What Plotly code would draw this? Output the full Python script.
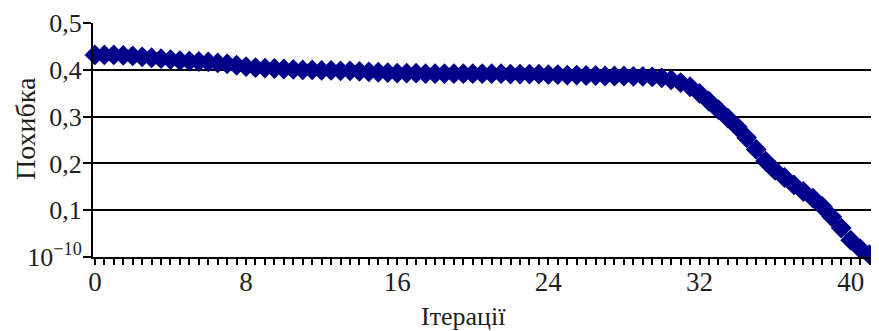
import plotly.graph_objects as go

iterations = [i * 0.5 for i in range(83)]
error = [
    0.432, 0.432, 0.432, 0.431, 0.430, 0.428, 0.426, 0.424, 0.422, 0.420,
    0.419, 0.418, 0.417, 0.415, 0.413, 0.410, 0.407, 0.405, 0.404, 0.403,
    0.402, 0.401, 0.400, 0.400, 0.399, 0.399, 0.398, 0.398, 0.397, 0.396,
    0.395, 0.394, 0.393, 0.393, 0.393, 0.392, 0.392, 0.392, 0.392, 0.392,
    0.392, 0.392, 0.392, 0.392, 0.391, 0.391, 0.391, 0.391, 0.390, 0.390,
    0.389, 0.389, 0.388, 0.388, 0.387, 0.387, 0.387, 0.386, 0.386, 0.385,
    0.383, 0.379, 0.373, 0.364, 0.350, 0.333, 0.315, 0.297, 0.278, 0.255,
    0.230, 0.205, 0.185, 0.170, 0.154, 0.140, 0.126, 0.108, 0.086, 0.062,
    0.036, 0.018, 0.005,
]

x_tick_vals = [0, 8, 16, 24, 32, 40]
x_tick_text = ["0", "8", "16", "24", "32", "40"]
y_tick_vals = [0, 0.1, 0.2, 0.3, 0.4, 0.5]
y_tick_text = ["10<sup>−10</sup>", "0,1", "0,2", "0,3", "0,4", "0,5"]
x_title = "Ітерації"
y_title = "Похибка"

navy = "#00008a"
txt = "#1e1e1e"
fig = go.Figure()
fig.add_trace(go.Scatter(
    x=iterations, y=error, mode="lines+markers",
    line=dict(color=navy, width=4),
    marker=dict(symbol="diamond", size=16, color=navy),
    showlegend=False, cliponaxis=False,
))

font = "Liberation Serif, Times New Roman, serif"
fig.update_layout(
    width=871, height=323,
    margin=dict(l=85, r=0, t=15, b=74),
    paper_bgcolor="white", plot_bgcolor="white",
    font=dict(family=font, color=txt, size=26),
    xaxis=dict(
        range=[-0.1, 41.5], automargin=False,
        tickmode="array", tickvals=x_tick_vals, ticktext=x_tick_text,
        ticks="outside", ticklen=6, tickwidth=1.5, tickcolor="black",
        minor=dict(dtick=0.5, tick0=0, ticks="outside", ticklen=6, tickwidth=1.5, tickcolor="black", showgrid=False),
        showgrid=False, zeroline=False,
        showline=True, linecolor="black", linewidth=2,
        tickfont=dict(size=27, family=font, color=txt),
        ticklabelstandoff=-6,
    ),
    yaxis=dict(
        range=[0, 0.5003], automargin=False,
        tickmode="array", tickvals=y_tick_vals, ticktext=y_tick_text,
        ticks="outside", ticklen=8, tickwidth=1.5, tickcolor="black",
        showgrid=True, gridcolor="black", gridwidth=1.5,
        zeroline=False,
        showline=True, linecolor="black", linewidth=2,
        tickfont=dict(size=26, family=font, color=txt),
        ticklabelstandoff=-4,
    ),
    annotations=[
        dict(text=x_title, xref="paper", yref="paper", x=0.472, y=0,
             xanchor="center", yanchor="middle", yshift=-59, showarrow=False,
             font=dict(size=26, family=font, color=txt)),
        dict(text=y_title, xref="paper", yref="paper", x=0, y=0.547,
             xanchor="center", yanchor="middle", xshift=-68, textangle=-90,
             borderpad=0, showarrow=False, font=dict(size=28, family=font, color=txt)),
    ],
)

fig.write_html("out.html")
